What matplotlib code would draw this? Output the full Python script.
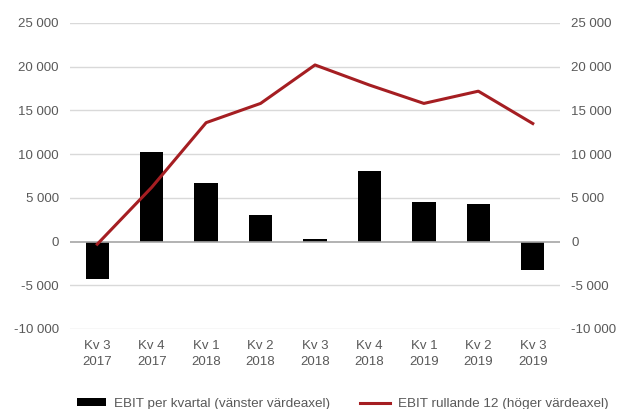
import matplotlib.pyplot as plt
import numpy as np

plt.rcParams['font.family'] = ['Liberation Sans', 'DejaVu Sans']

# quarters shown on the x axis
quarters = ['Kv 3\n2017', 'Kv 4\n2017', 'Kv 1\n2018', 'Kv 2\n2018', 'Kv 3\n2018',
            'Kv 4\n2018', 'Kv 1\n2019', 'Kv 2\n2019', 'Kv 3\n2019']
# EBIT per quarter (left axis)
ebit_quarter = [-4250, 10300, 6700, 3000, 250, 8050, 4500, 4300, -3300]
# EBIT rolling 12 months (right axis)
ebit_rolling = [-300, 6200, 13600, 15800, 20200, 17900, 15800, 17200, 13500]

yticks = [-10000, -5000, 0, 5000, 10000, 15000, 20000, 25000]
ylabels = ['-10 000', '-5 000', '0', '5 000', '10 000', '15 000', '20 000', '25 000']

txt = '#595959'
red = '#a51e22'

fig = plt.figure(figsize=(6.17, 4.09), dpi=100)
ax = fig.add_axes([0.1135, 0.1956, 0.7941, 0.7482])
x = np.arange(len(quarters))

for y in yticks:
    if y != 0:
        ax.axhline(y, color='#d9d9d9', lw=1, zorder=0)
bars = ax.bar(x, ebit_quarter, width=0.43, color='black', zorder=2,
              label='EBIT per kvartal (vänster värdeaxel)')
ax.axhline(0, color='#a6a6a6', lw=1.2, zorder=3)

ax.set_xlim(-0.5, len(quarters) - 0.5)
ax.set_ylim(-10000, 25000)
ax.set_yticks(yticks)
ax.set_yticklabels(ylabels)
ax.set_xticks(x)
ax.set_xticklabels(quarters, linespacing=1.45)
ax.tick_params(length=0, colors=txt, labelsize=9.5, pad=8)
for s in ax.spines.values():
    s.set_visible(False)

ax2 = ax.twinx()
line, = ax2.plot(x, ebit_rolling, color=red, lw=2.2, zorder=4,
                 label='EBIT rullande 12 (höger värdeaxel)')
ax2.set_ylim(-10000, 25000)
ax2.set_yticks(yticks)
ax2.set_yticklabels(ylabels)
ax2.tick_params(length=0, colors=txt, labelsize=9.5, pad=8)
for s in ax2.spines.values():
    s.set_visible(False)

fig.legend([bars, line], [bars.get_label(), line.get_label()], loc='center',
           bbox_to_anchor=(0.555, 0.012), ncol=2, frameon=False, fontsize=9.7,
           labelcolor=txt, handlelength=2.2, handleheight=0.5, columnspacing=2.2,
           handletextpad=0.6)

fig.savefig('out.png', dpi=100)
